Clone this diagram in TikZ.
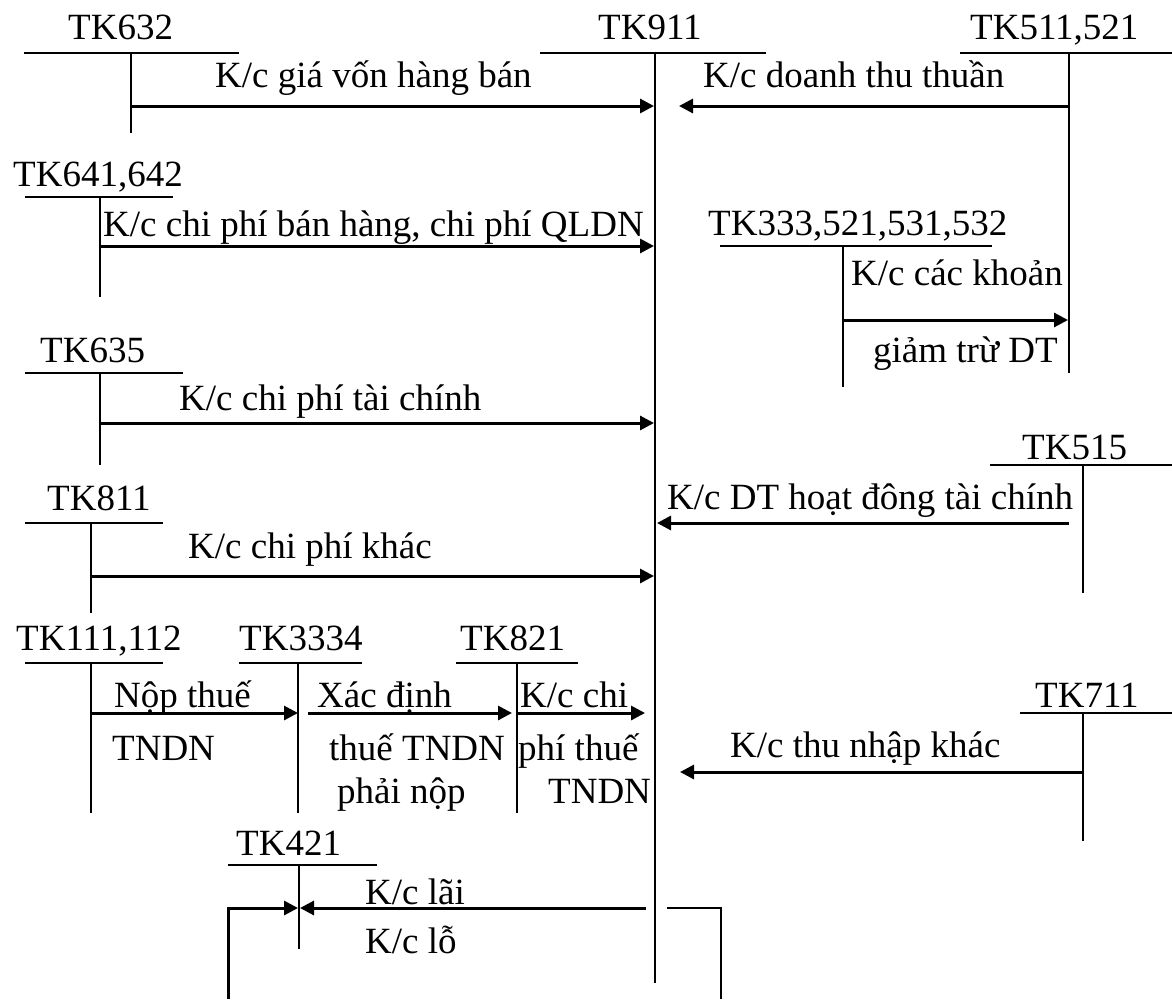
\documentclass[tikz,border=0pt]{standalone}
\usepackage{fontspec}
\setmainfont{Liberation Serif}
\usetikzlibrary{arrows.meta}
\begin{document}
\begin{tikzpicture}[x=1pt,y=-1pt,
  lbl/.style={anchor=base west, inner sep=0pt, font=\fontsize{37}{40}\selectfont},
  tline/.style={line width=2pt},
  mainline/.style={line width=2.5pt},
  flow/.style={line width=3pt, -{Triangle[length=14pt,width=14pt]}},
  plain/.style={line width=2.5pt},
]
\useasboundingbox (0,0) rectangle (1172,999);

% ---------- TK632 ----------
\node[lbl] (n632) at (68,39) {TK632};
\coordinate (h632a) at (24,53);  \coordinate (h632b) at (239,53);
\coordinate (v632a) at (131,53); \coordinate (v632b) at (131,133);
\coordinate (f632) at (131,106); \coordinate (t632) at (654,106);
\draw[tline] (h632a) -- (h632b);
\draw[tline] (v632a) -- (v632b);
\draw[flow] (f632) -- (t632);
\node[lbl] (l632) at (215,87) {K/c giá vốn hàng bán};

% ---------- TK911 ----------
\node[lbl] (n911) at (598,39) {TK911};
\coordinate (h911a) at (540,53); \coordinate (h911b) at (766,53);
\coordinate (v911a) at (655,53); \coordinate (v911b) at (655,983);
\draw[tline] (h911a) -- (h911b);
\draw[mainline] (v911a) -- (v911b);

% ---------- TK511,521 ----------
\node[lbl] (n511) at (970,39) {TK511,521};
\coordinate (h511a) at (960,53);  \coordinate (h511b) at (1172,53);
\coordinate (v511a) at (1069,53); \coordinate (v511b) at (1069,373);
\coordinate (f511) at (1069,106); \coordinate (t511) at (679,106);
\draw[tline] (h511a) -- (h511b);
\draw[tline] (v511a) -- (v511b);
\draw[flow] (f511) -- (t511);
\node[lbl] (l511) at (703,87) {K/c doanh thu thuần};

% ---------- TK641,642 ----------
\node[lbl] (n641) at (13,186) {TK641,642};
\coordinate (h641a) at (25,197);  \coordinate (h641b) at (173,197);
\coordinate (v641a) at (100,197); \coordinate (v641b) at (100,297);
\coordinate (f641) at (100,246);  \coordinate (t641) at (654,246);
\draw[tline] (h641a) -- (h641b);
\draw[tline] (v641a) -- (v641b);
\draw[flow] (f641) -- (t641);
\node[lbl] (l641) at (103,236) {K/c chi phí bán hàng, chi phí QLDN};

% ---------- TK333,521,531,532 ----------
\node[lbl] (n333) at (708,235) {TK333,521,531,532};
\coordinate (h333a) at (720,246); \coordinate (h333b) at (992,246);
\coordinate (v333a) at (843,246); \coordinate (v333b) at (843,387);
\coordinate (f333) at (843,320);  \coordinate (t333) at (1068,320);
\draw[tline] (h333a) -- (h333b);
\draw[tline] (v333a) -- (v333b);
\draw[flow] (f333) -- (t333);
\node[lbl] (l333a) at (851,285) {K/c các khoản};
\node[lbl] (l333b) at (873,362) {giảm trừ DT};

% ---------- TK635 ----------
\node[lbl] (n635) at (40,362) {TK635};
\coordinate (h635a) at (25,373);  \coordinate (h635b) at (183,373);
\coordinate (v635a) at (100,373); \coordinate (v635b) at (100,465);
\coordinate (f635) at (100,423);  \coordinate (t635) at (654,423);
\draw[tline] (h635a) -- (h635b);
\draw[tline] (v635a) -- (v635b);
\draw[flow] (f635) -- (t635);
\node[lbl] (l635) at (179,410) {K/c chi phí tài chính};

% ---------- TK515 ----------
\node[lbl] (n515) at (1022,459) {TK515};
\coordinate (h515a) at (990,465);  \coordinate (h515b) at (1172,465);
\coordinate (v515a) at (1083,465); \coordinate (v515b) at (1083,593);
\coordinate (f515) at (1069,523);  \coordinate (t515) at (657,523);
\draw[tline] (h515a) -- (h515b);
\draw[tline] (v515a) -- (v515b);
\draw[flow] (f515) -- (t515);
\node[lbl] (l515) at (667,509) {K/c DT hoạt đông tài chính};

% ---------- TK811 ----------
\node[lbl] (n811) at (47,510) {TK811};
\coordinate (h811a) at (25,523); \coordinate (h811b) at (163,523);
\coordinate (v811a) at (91,523); \coordinate (v811b) at (91,613);
\coordinate (f811) at (91,576);  \coordinate (t811) at (654,576);
\draw[tline] (h811a) -- (h811b);
\draw[tline] (v811a) -- (v811b);
\draw[flow] (f811) -- (t811);
\node[lbl] (l811) at (188,558) {K/c chi phí khác};

% ---------- TK111,112 ----------
\node[lbl] (n111) at (16,650) {TK111,112};
\coordinate (h111a) at (25,663); \coordinate (h111b) at (163,663);
\coordinate (v111a) at (91,663); \coordinate (v111b) at (91,813);
\coordinate (f111) at (91,713);  \coordinate (t111) at (298,713);
\draw[tline] (h111a) -- (h111b);
\draw[tline] (v111a) -- (v111b);
\draw[flow] (f111) -- (t111);
\node[lbl] (l111a) at (114,707) {Nộp thuế};
\node[lbl] (l111b) at (112,760) {TNDN};

% ---------- TK3334 ----------
\node[lbl] (n3334) at (239,650) {TK3334};
\coordinate (h3334a) at (239,663); \coordinate (h3334b) at (362,663);
\coordinate (v3334a) at (298,663); \coordinate (v3334b) at (298,813);
\coordinate (f3334) at (308,713);  \coordinate (t3334) at (512,713);
\draw[tline] (h3334a) -- (h3334b);
\draw[tline] (v3334a) -- (v3334b);
\draw[flow] (f3334) -- (t3334);
\node[lbl] (l3334a) at (317,707) {Xác định};
\node[lbl] (l3334b) at (329,760) {thuế TNDN};
\node[lbl] (l3334c) at (337,803) {phải nộp};

% ---------- TK821 ----------
\node[lbl] (n821) at (460,650) {TK821};
\coordinate (h821a) at (456,663); \coordinate (h821b) at (578,663);
\coordinate (v821a) at (517,663); \coordinate (v821b) at (517,813);
\coordinate (f821) at (517,713);  \coordinate (t821) at (645,713);
\draw[tline] (h821a) -- (h821b);
\draw[tline] (v821a) -- (v821b);
\draw[flow] (f821) -- (t821);
\node[lbl] (l821a) at (520,707) {K/c chi};
\node[lbl] (l821b) at (518,760) {phí thuế};
\node[lbl] (l821c) at (548,803) {TNDN};

% ---------- TK711 ----------
\node[lbl] (n711) at (1035,707) {TK711};
\coordinate (h711a) at (1020,713); \coordinate (h711b) at (1172,713);
\coordinate (v711a) at (1083,713); \coordinate (v711b) at (1083,841);
\coordinate (f711) at (1083,772);  \coordinate (t711) at (680,772);
\draw[tline] (h711a) -- (h711b);
\draw[tline] (v711a) -- (v711b);
\draw[flow] (f711) -- (t711);
\node[lbl] (l711) at (730,757) {K/c thu nhập khác};

% ---------- TK421 ----------
\node[lbl] (n421) at (236,855) {TK421};
\coordinate (h421a) at (228,865); \coordinate (h421b) at (377,865);
\coordinate (v421a) at (299,865); \coordinate (v421b) at (299,949);
\draw[tline] (h421a) -- (h421b);
\draw[tline] (v421a) -- (v421b);
% loss: from below left up into TK421
\coordinate (lossS) at (228,999); \coordinate (lossT) at (298,908);
\draw[flow] (lossS) |- (lossT);
% profit: from TK911 to TK421
\coordinate (profS) at (646,908); \coordinate (profT) at (300,908);
\draw[flow] (profS) -- (profT);
% loss bracket on the right of TK911
\coordinate (rbA) at (667,908); \coordinate (rbB) at (721,908); \coordinate (rbC) at (721,999);
\draw[plain] (rbA) -- (rbB) -- (rbC);
\node[lbl] (l421a) at (365,904) {K/c lãi};
\node[lbl] (l421b) at (365,953) {K/c lỗ};

\end{tikzpicture}
\end{document}
